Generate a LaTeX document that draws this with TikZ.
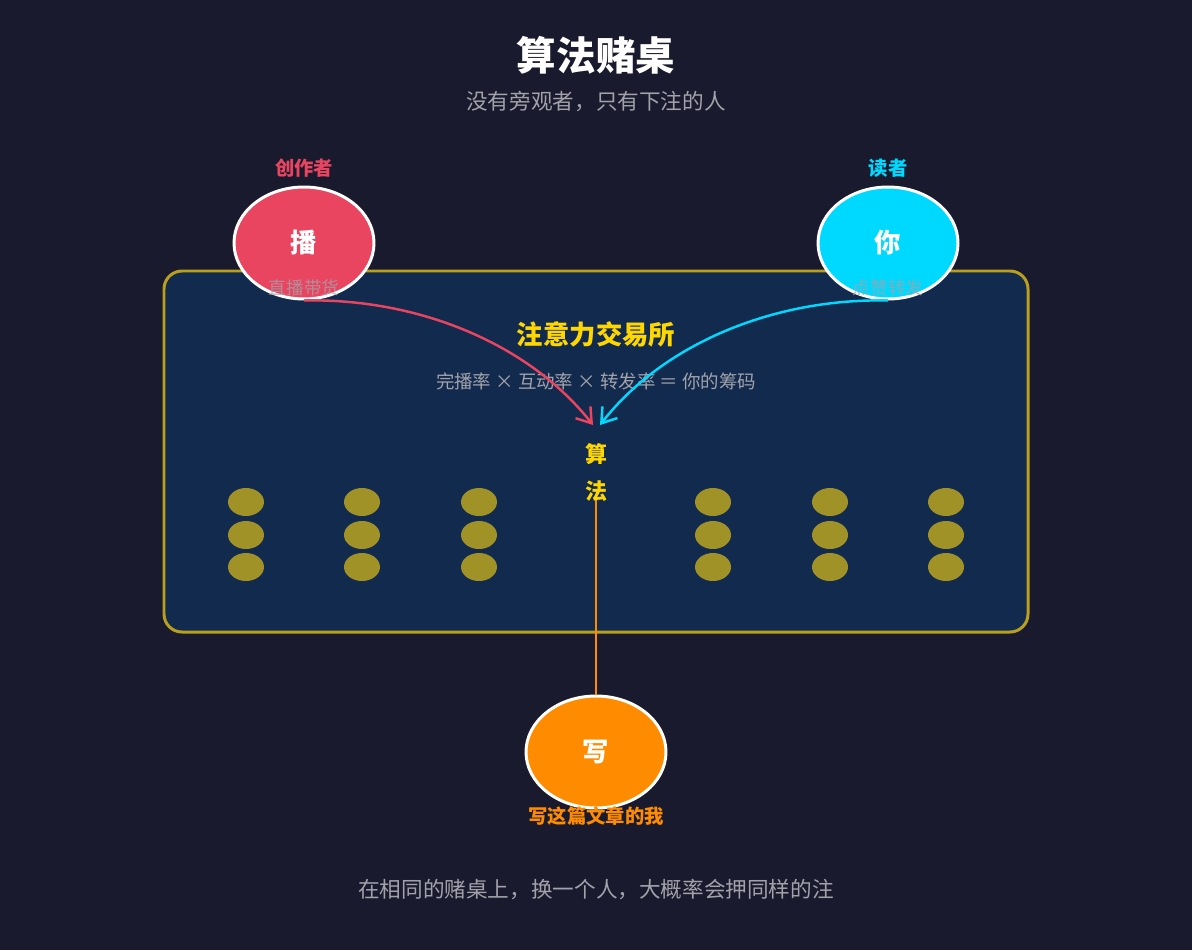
\documentclass[tikz,border=0pt]{standalone}
\usepackage{fontspec}
\setmainfont{Noto Sans CJK SC}
\usetikzlibrary{shapes.geometric,arrows.meta}

\definecolor{bgdark}{HTML}{1A1A2E}
\definecolor{tablefill}{HTML}{122A4E}
\definecolor{tableedge}{HTML}{B8A01E}
\definecolor{chipcol}{HTML}{A09226}
\definecolor{creatorred}{HTML}{E94560}
\definecolor{readercyan}{HTML}{00D9FF}
\definecolor{writerorange}{HTML}{FF8C00}
\definecolor{goldtext}{HTML}{FFD700}
\definecolor{greytext}{HTML}{A2A2AA}

\tikzset{
  player/.style={ellipse, draw=white, line width=1.7pt, minimum width=2.8cm,
    minimum height=2.24cm, inner sep=0pt, text=white, font=\bfseries\fontsize{15}{15}\selectfont},
  chip/.style={ellipse, fill=chipcol, minimum width=0.72cm, minimum height=0.56cm, inner sep=0pt},
  rolelabel/.style={font=\bfseries\fontsize{11}{11}\selectfont},
  sublabel/.style={text=greytext, opacity=0.8, font=\fontsize{10}{10}\selectfont},
  bet/.style={line width=1.4pt, -{Straight Barb[length=2.8mm,width=3.8mm,line width=1.4pt]}}
}

\begin{document}
\begin{tikzpicture}[x=0.02cm,y=-0.02cm]

% background
\fill [bgdark] (0,0) rectangle (1192,950);
\useasboundingbox (0,0) rectangle (1192,950);

% titles
\node (title) at (596,55) [text=white, font=\bfseries\fontsize{22.5}{22.5}\selectfont] {算法赌桌};
\node (subtitle) at (596,101) [text=greytext, font=\fontsize{12.3}{12.3}\selectfont] {没有旁观者，只有下注的人};

% the table
\draw [tableedge, fill=tablefill, line width=1.7pt, rounded corners=0.36cm] (164,271) rectangle (1028,632);

\node (market) at (596,334) [text=goldtext, font=\bfseries\fontsize{15}{15}\selectfont] {注意力交易所};
\node (formula) at (596,381) [text=greytext, font=\fontsize{10.5}{10.5}\selectfont] {完播率 × 互动率 × 转发率 ＝ 你的筹码};

% chips
\foreach \x in {246,362,479,713,830,946}
  \foreach \y in {502,535,567}
    \node [chip] (chip-\x-\y) at (\x,\y) {};

% players
\node [player, fill=creatorred] (creator) at (304,243) {播};
\node [player, fill=readercyan] (reader) at (888,243) {你};
\node [player, fill=writerorange] (writer) at (596,752) {写};

\node [rolelabel, text=creatorred] (creatorname) at (304,168) {创作者};
\node [rolelabel, text=readercyan] (readername) at (888,168) {读者};
\node [rolelabel, text=writerorange] (writername) at (596,816) {写这篇文章的我};

\node [sublabel] (creatorway) at (304,288) {直播带货};
\node [sublabel] (readerway) at (888,288) {点赞转发};

% algorithm
\coordinate (algleft) at (593,425);
\coordinate (algright) at (600,425);
\coordinate (algtop) at (596,494);

\draw [creatorred, bet] (creator.south) .. controls (420,298) and (530,345) .. (algleft);
\draw [readercyan, bet] (reader.south) .. controls (772,298) and (662,345) .. (algright);
\draw [writerorange, line width=1.5pt] (algtop) -- (writer.north);

\node (alg1) at (596,454) [text=goldtext, font=\bfseries\fontsize{12.5}{12.5}\selectfont] {算};
\node (alg2) at (596,491) [text=goldtext, font=\bfseries\fontsize{12.5}{12.5}\selectfont] {法};

% footer
\node (footer) at (596,889) [text=greytext, font=\fontsize{12.3}{12.3}\selectfont] {在相同的赌桌上，换一个人，大概率会押同样的注};

\end{tikzpicture}
\end{document}
